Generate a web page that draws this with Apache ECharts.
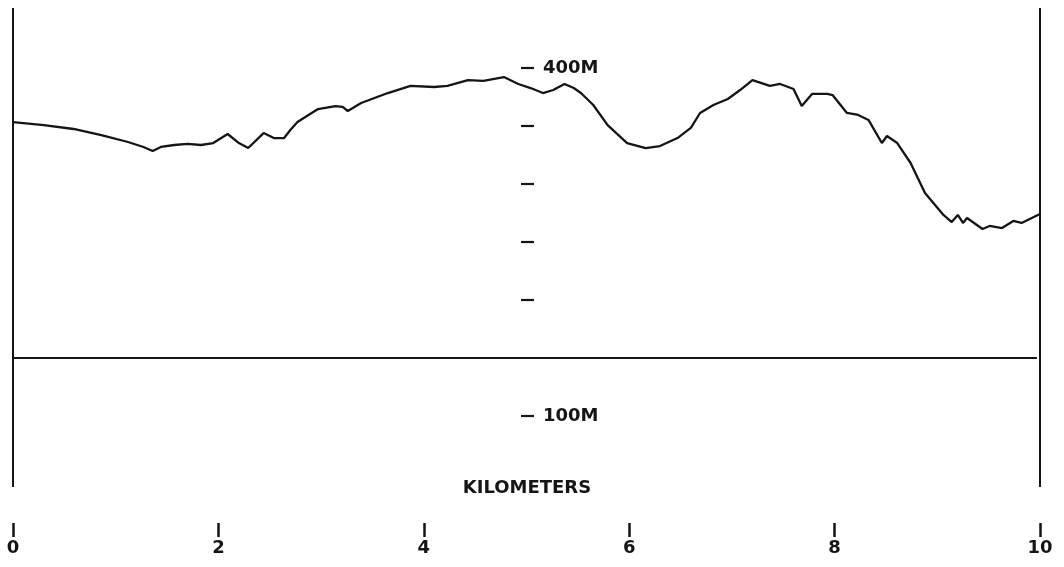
<!DOCTYPE html>
<html>
<head>
<meta charset="utf-8">
<script src="https://cdn.jsdelivr.net/npm/echarts@6/dist/echarts.min.js"></script>
<style>
html,body{margin:0;padding:0;background:#fff;}
#chart{width:1064px;height:567px;}
</style>
</head>
<body>
<div id="chart"></div>
<script>
// Profile distance (km) and elevation (m)
const profileKm = [0.00,0.30,0.59,0.86,1.12,1.27,1.36,1.44,1.57,1.70,1.83,1.95,2.09,2.20,2.29,2.44,2.54,2.64,2.70,2.77,2.97,3.14,3.21,3.26,3.39,3.65,3.87,4.10,4.23,4.43,4.58,4.78,4.92,5.04,5.16,5.26,5.37,5.46,5.53,5.65,5.79,5.98,6.16,6.30,6.47,6.60,6.69,6.82,6.96,7.08,7.20,7.37,7.47,7.60,7.68,7.78,7.93,7.98,8.12,8.23,8.33,8.46,8.51,8.61,8.74,8.88,9.06,9.14,9.20,9.25,9.29,9.44,9.51,9.63,9.74,9.82,10.00];
const profileM  = [353.4,350.8,347.4,342.2,336.2,331.9,328.4,331.9,333.6,334.5,333.6,335.3,343.1,335.3,331.0,343.9,339.6,339.6,346.5,353.4,364.6,367.2,366.4,362.9,369.8,378.4,384.5,383.6,384.5,389.6,388.8,392.2,386.2,382.7,378.4,381.0,386.2,382.7,378.4,368.1,350.8,335.3,331.0,332.7,339.6,348.3,361.2,368.1,373.3,381.0,389.6,384.5,386.2,381.9,367.2,377.6,377.6,376.7,361.2,359.5,355.2,335.3,341.4,335.3,318.1,292.2,273.3,267.2,273.3,266.4,270.7,261.2,263.8,262.0,268.1,266.4,274.1];

// Frame: left/right verticals and the datum line
const frameBottomM = 38.8;
const frameTopM = 451.7;
const datumM = 150;
const datumEndKm = 9.97;

// Axis ticks and labels
const kmTicks = [0, 2, 4, 6, 8, 10];
const elevTicks = [100, 200, 250, 300, 350, 400];
const elevLabels = [100, 400];
const axisTitle = 'KILOMETERS';

const ink = '#151515';
const font = 'DejaVu Sans';

const chart = echarts.init(document.getElementById('chart'));
const profile = profileKm.map((k, i) => [k, profileM[i]]);

chart.setOption({
  animation: false,
  backgroundColor: '#ffffff',
  grid: { left: 13, top: 0, width: 1027, height: 532, containLabel: false },
  xAxis: {
    type: 'value', min: 0, max: 10, interval: 2,
    position: 'bottom', offset: -9,
    axisLine: { show: false },
    axisTick: { show: true, inside: false, length: 14, lineStyle: { color: ink, width: 2.5 } },
    axisLabel: { show: true, margin: 16, color: ink, fontFamily: font, fontSize: 18, fontWeight: 'bold',
      customValues: kmTicks, formatter: v => String(v) },
    splitLine: { show: false }
  },
  yAxis: {
    type: 'value', min: 0, max: 458.6,
    position: 'left', offset: -508,
    axisLine: { show: false },
    axisTick: { show: true, inside: true, length: 13, customValues: elevTicks,
      lineStyle: { color: ink, width: 2.2 } },
    axisLabel: { show: true, inside: true, margin: 22, color: ink, fontFamily: font, fontSize: 18, fontWeight: 'bold',
      customValues: elevLabels, formatter: v => v + 'M' },
    splitLine: { show: false }
  },
  graphic: [{
    type: 'text', x: 527, y: 488,
    style: { text: axisTitle, fill: ink, font: 'bold 18px "DejaVu Sans"',
      textAlign: 'center', textVerticalAlign: 'middle' }
  }],
  series: [
    { type: 'line', data: profile, showSymbol: false, clip: false,
      lineStyle: { color: ink, width: 2.3 } },
    { type: 'line', data: [[0, frameBottomM], [0, frameTopM]], showSymbol: false, clip: false,
      lineStyle: { color: ink, width: 2 } },
    { type: 'line', data: [[10, frameBottomM], [10, frameTopM]], showSymbol: false, clip: false,
      lineStyle: { color: ink, width: 2 } },
    { type: 'line', data: [[0, datumM], [datumEndKm, datumM]], showSymbol: false, clip: false,
      lineStyle: { color: ink, width: 2 } }
  ]
});
</script>
</body>
</html>
